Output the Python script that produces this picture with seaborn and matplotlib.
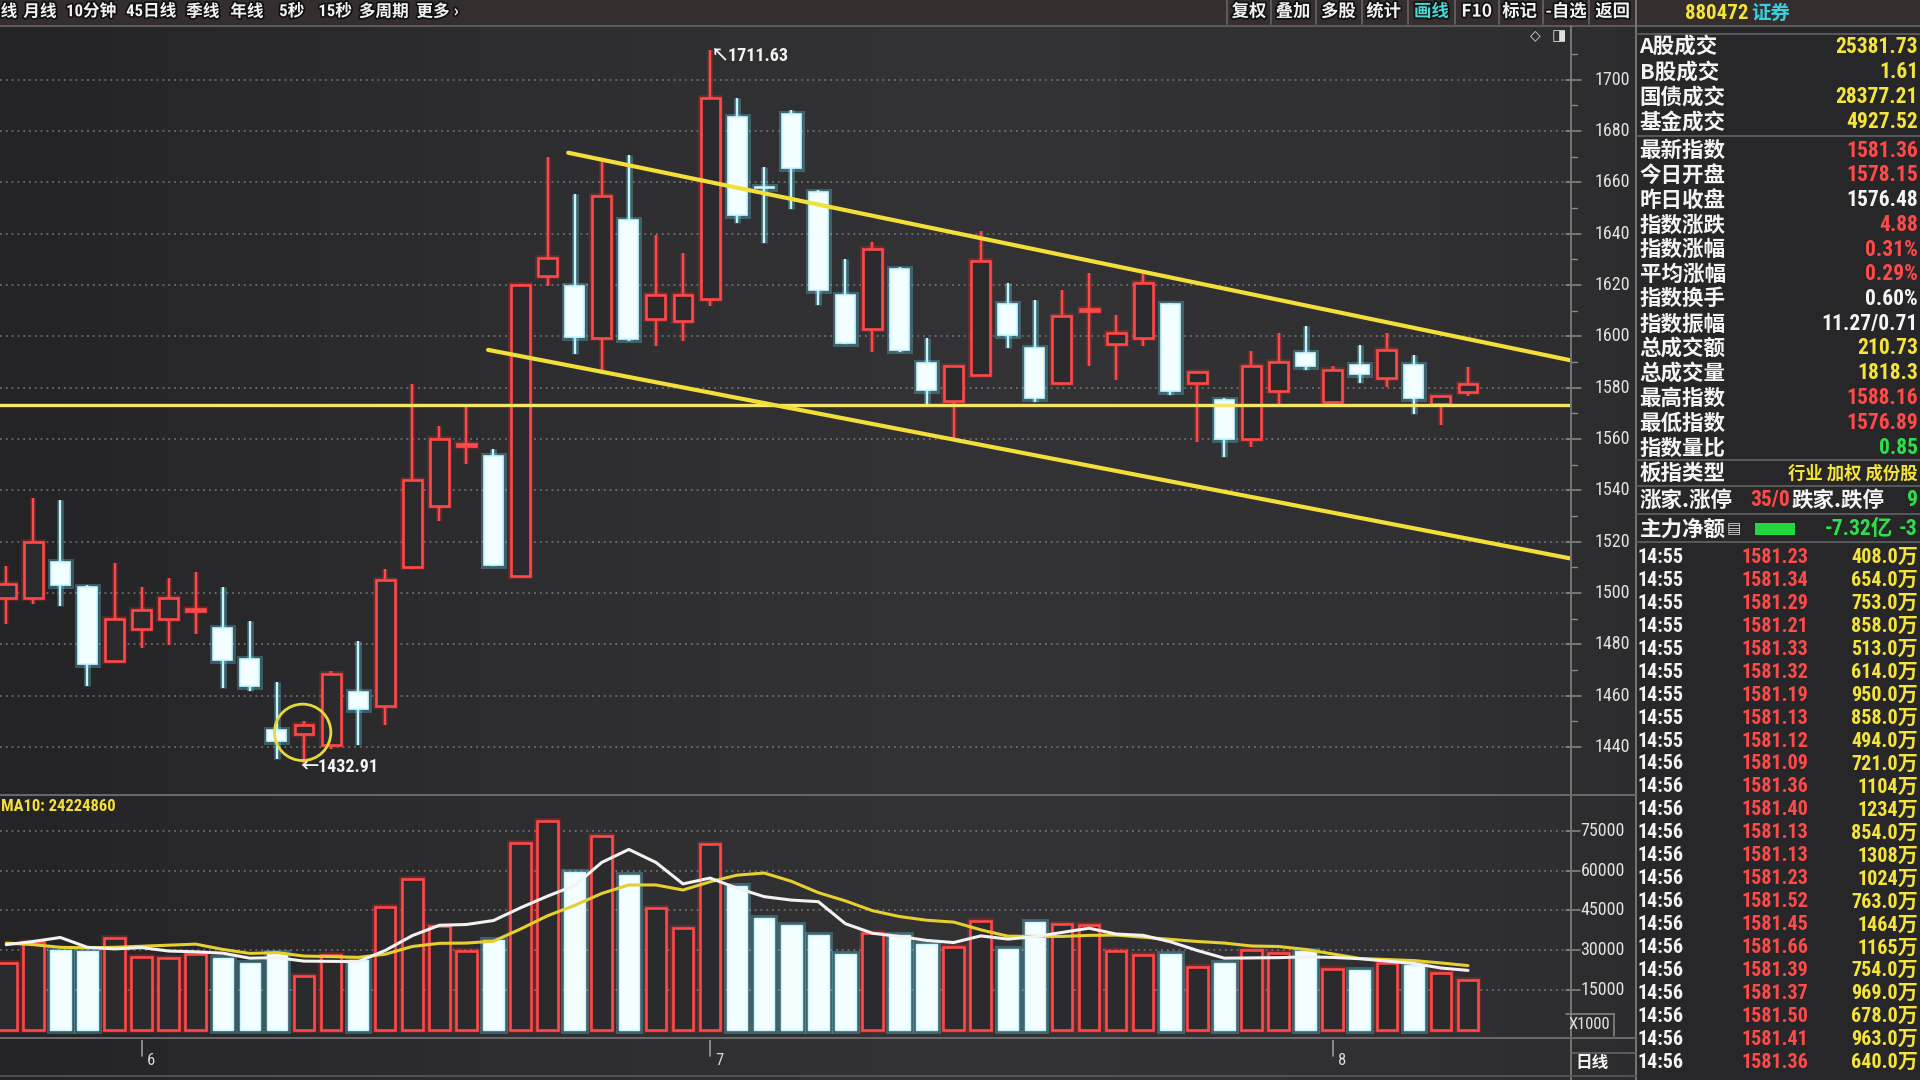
import numpy as np
import pandas as pd
import matplotlib
matplotlib.use("Agg")
import matplotlib.pyplot as plt
import matplotlib.transforms as mtransforms
import matplotlib.font_manager as fm
import matplotlib.patheffects as pe
from matplotlib.lines import Line2D
from matplotlib.patches import Rectangle
from matplotlib.colors import LinearSegmentedColormap
import seaborn as sns

# ---------------- data ----------------
opens = [1498.1, 1498.1, 1512.1, 1502.5, 1473.4, 1485.9, 1489.8, 1493.0, 1486.5, 1474.1,
         1446.6, 1445.2, 1440.6, 1461.6, 1456.1, 1510.1, 1533.7, 1557.3, 1553.4, 1506.5,
         1623.6, 1619.4, 1599.5, 1645.1, 1606.9, 1606.0, 1614.7, 1685.4, 1658.0, 1686.4,
         1656.2, 1616.0, 1603.0, 1626.1, 1589.6, 1574.6, 1585.0, 1612.4, 1595.5, 1581.8,
         1610.0, 1596.8, 1599.4, 1612.7, 1581.8, 1575.3, 1560.0, 1578.6, 1593.5, 1574.4,
         1588.7, 1583.8, 1589.0, 1573.6, 1578.1]
highs = [1510.4, 1537.0, 1536.1, 1503.0, 1511.7, 1502.3, 1505.9, 1508.2, 1502.5, 1488.9,
         1465.3, 1450.1, 1469.5, 1481.3, 1509.5, 1581.6, 1564.9, 1572.4, 1556.0, 1620.5,
         1669.8, 1655.5, 1668.1, 1670.7, 1639.5, 1632.5, 1711.63, 1692.9, 1665.9, 1688.0,
         1657.0, 1630.1, 1636.6, 1627.0, 1599.4, 1588.5, 1641.0, 1620.9, 1614.3, 1617.9,
         1624.8, 1608.2, 1624.1, 1613.0, 1586.6, 1576.0, 1594.4, 1601.3, 1604.0, 1588.3,
         1596.5, 1601.3, 1592.6, 1576.8, 1588.1]
lows = [1487.8, 1495.7, 1495.1, 1463.6, 1473.0, 1478.7, 1479.7, 1483.9, 1462.9, 1461.9,
        1435.4, 1432.91, 1439.3, 1440.6, 1448.5, 1509.5, 1528.2, 1550.1, 1510.5, 1506.0,
        1619.7, 1593.0, 1585.2, 1598.0, 1596.3, 1598.2, 1611.6, 1644.0, 1636.3, 1649.5,
        1612.0, 1597.0, 1593.9, 1594.0, 1573.3, 1560.3, 1584.5, 1595.5, 1574.5, 1581.0,
        1588.3, 1583.1, 1596.1, 1577.0, 1559.0, 1552.8, 1557.0, 1573.3, 1587.0, 1573.3,
        1581.8, 1580.1, 1569.7, 1565.5, 1576.6]
closes = [1503.6, 1520.0, 1503.3, 1472.4, 1489.8, 1493.4, 1498.1, 1493.6, 1473.7, 1463.6,
          1442.2, 1448.5, 1468.4, 1454.8, 1505.1, 1544.2, 1559.9, 1557.8, 1510.8, 1620.0,
          1630.4, 1599.9, 1654.6, 1598.9, 1616.1, 1616.1, 1692.9, 1647.3, 1657.6, 1665.5,
          1618.0, 1597.3, 1634.0, 1594.8, 1579.2, 1588.3, 1629.3, 1600.4, 1576.0, 1607.9,
          1610.6, 1601.3, 1620.9, 1578.8, 1586.1, 1560.0, 1588.3, 1590.0, 1588.3, 1587.0,
          1585.3, 1594.8, 1576.0, 1576.6, 1581.3]
volumes = [25300, 33100, 30000, 29600, 34600, 27500, 26900, 28400, 26900, 25100,
           28800, 20100, 28200, 26300, 46300, 56800, 39300, 29600, 34000, 70400,
           78800, 59300, 73200, 58300, 46100, 38300, 70100, 54300, 42200, 39400,
           35600, 28500, 36500, 35900, 32200, 31200, 40900, 30600, 40800, 39900,
           39500, 29600, 28300, 28500, 23700, 25000, 30000, 29100, 29600, 23100,
           22500, 25200, 24400, 21300, 18800]
ma5 = [32100, 33300, 34800, 31100, 30500, 31000, 29700, 29400, 28900, 27000,
       27200, 25900, 25800, 25700, 29900, 35500, 39400, 39700, 41200, 46000,
       50400, 54400, 63100, 68000, 63100, 55000, 57200, 53400, 50200, 48900,
       48300, 40000, 36400, 35200, 33700, 32900, 35400, 34200, 35100, 36700,
       38300, 36100, 35600, 33200, 29900, 27000, 27100, 27200, 27500, 27300,
       26800, 25900, 25000, 23300, 22400]
ma10 = [32700, 32100, 31100, 30900, 31100, 31500, 31900, 32300, 30300, 28800,
        29100, 27800, 27600, 27300, 28500, 31400, 32600, 32700, 33400, 38000,
        43000, 46900, 51400, 54600, 54600, 52700, 55800, 58300, 59100, 56000,
        51700, 48600, 44900, 42700, 41300, 40600, 37700, 35300, 35200, 35200,
        35600, 35700, 34900, 34100, 33300, 32700, 31600, 31400, 30300, 28600,
        26900, 26500, 26100, 25200, 24200]
ma10_label = "MA10: 24224860"
price_ticks = [1440, 1460, 1480, 1500, 1520, 1540, 1560, 1580, 1600, 1620, 1640, 1660, 1680, 1700]
vol_ticks = [15000, 30000, 45000, 60000, 75000]
month_idx = [5, 26, 49]
month_labels = ["6", "7", "8"]
support_level = 1573.2
upper_trend_x = [20.76, 57.76]
upper_trend_y = [1671.5, 1590.7]
lower_trend_x = [17.8, 57.76]
lower_trend_y = [1594.7, 1513.5]
high_label = "1711.63"
low_label = "1432.91"

toolbar_left = ["线", "月线", "10分钟", "45日线", "季线", "年线", "5秒", "15秒", "多周期", "更多 ›"]
toolbar_right = ["复权", "叠加", "多股", "统计", "画线", "F10", "标记", "-自选", "返回"]
header_code = "880472"
header_name = "证券"
stat_labels = ["A股成交", "B股成交", "国债成交", "基金成交", "最新指数", "今日开盘", "昨日收盘",
               "指数涨跌", "指数涨幅", "平均涨幅", "指数换手", "指数振幅", "总成交额", "总成交量",
               "最高指数", "最低指数", "指数量比"]
stat_values = ["25381.73", "1.61", "28377.21", "4927.52", "1581.36", "1578.15", "1576.48",
               "4.88", "0.31%", "0.29%", "0.60%", "11.27/0.71", "210.73", "1818.3",
               "1588.16", "1576.89", "0.85"]
stat_kinds = ["y", "y", "y", "y", "r", "r", "w", "r", "r", "r", "w", "w", "y", "y", "r", "r", "g"]
tick_times = ["14:55"] * 9 + ["14:56"] * 14
tick_prices = ["1581.23", "1581.34", "1581.29", "1581.21", "1581.33", "1581.32", "1581.19",
               "1581.13", "1581.12", "1581.09", "1581.36", "1581.40", "1581.13", "1581.13",
               "1581.23", "1581.52", "1581.45", "1581.66", "1581.39", "1581.37", "1581.50",
               "1581.41", "1581.36"]
tick_vols = ["408.0万", "654.0万", "753.0万", "858.0万", "513.0万", "614.0万", "950.0万",
             "858.0万", "494.0万", "721.0万", "1104万", "1234万", "854.0万", "1308万",
             "1024万", "763.0万", "1464万", "1165万", "754.0万", "969.0万", "678.0万",
             "963.0万", "640.0万"]

# ---------------- style ----------------
sns.set_theme(style="dark")
plt.rcParams["font.family"] = ["Noto Sans CJK SC", "DejaVu Sans"]
plt.rcParams["axes.unicode_minus"] = False
avail = {f.name for f in fm.fontManager.ttflist}
NARROW = next((f for f in ["Liberation Sans Narrow", "Roboto Condensed", "DejaVu Sans Condensed"]
               if f in avail), None)
NUM = [NARROW or "Roboto", "Noto Sans CJK SC", "DejaVu Sans"]
ns = 1.0 if NARROW else 0.84
CJK = ["Noto Sans CJK SC", "DejaVu Sans"]

BG = "#2b2b2d"
RED = "#ff4848"
WFILL = "#f2feff"
WEDGE = "#c8f6ff"
YEL = "#f3df3a"
YEL2 = "#f6e66a"
GRID = "#8c8c8c"
AXTXT = "#e2e2e2"
LINEC = "#6a6a6a"
TXT = "#f4f4f4"
VCOL = {"y": "#f5e43c", "r": "#ff4a4a", "w": "#f4f4f4", "g": "#2fe04a"}

W, H = 1568.0, 882.0
def fx(x): return x / W
def fy(y): return 1 - y / H

fig = plt.figure(figsize=(19.2, 10.8), dpi=100, facecolor=BG)

# photo-like background gradient
bgax = fig.add_axes([0, 0, 1, 1], zorder=-10)
bgax.axis("off")
cmap = LinearSegmentedColormap.from_list("bg", ["#242426", "#2d2d2f", "#333335", "#303032", "#28282a"])
grad = np.linspace(0, 1, 512)[None, :]
bgax.imshow(np.repeat(grad, 4, axis=0), aspect="auto", cmap=cmap, extent=[0, 1, 0, 1])
bgax.set_xlim(0, 1); bgax.set_ylim(0, 1)

def fline(x0, y0, x1, y1, color=LINEC, lw=1.2, **kw):
    fig.add_artist(Line2D([fx(x0), fx(x1)], [fy(y0), fy(y1)], transform=fig.transFigure,
                          color=color, lw=lw, **kw))

def ftext(x, y, s, **kw):
    kw.setdefault("va", "center")
    fig.text(fx(x), fy(y), s, **kw)

# ---------------- axes ----------------
ax = fig.add_axes([0, fy(648), fx(1282), fy(22) - fy(648)])
axv = fig.add_axes([0, fy(846), fx(1282), fy(651) - fy(846)])
axd = fig.add_axes([0, fy(878), fx(1282), fy(849) - fy(878)])
XL = (-0.23, 57.76)

idx = np.arange(len(opens))
o = np.array(opens); h = np.array(highs); l = np.array(lows); c = np.array(closes)
up = c >= o

# grid
for t in price_ticks:
    ax.axhline(t, color=GRID, lw=1.1, ls=(0, (1.2, 2.6)), zorder=0, alpha=0.8)

# candles
glow_r = [pe.withStroke(linewidth=4, foreground="#ff3030", alpha=0.25)]
glow_w = [pe.withStroke(linewidth=5, foreground="#6fe6ff", alpha=0.28)]
ax.vlines(idx[up], l[up], h[up], color=RED, lw=1.7, zorder=2, path_effects=glow_r)
ax.vlines(idx[~up], l[~up], h[~up], color=WEDGE, lw=1.7, zorder=2, path_effects=glow_w)
body_lo = np.minimum(o, c)
body_h = np.maximum(np.abs(c - o), 0.7)
ax.bar(idx[up], body_h[up], bottom=body_lo[up], width=0.7, facecolor=BG, edgecolor=RED,
       linewidth=1.9, zorder=3, path_effects=glow_r)
ax.bar(idx[~up], body_h[~up], bottom=body_lo[~up], width=0.7, facecolor=WFILL, edgecolor=WEDGE,
       linewidth=1.2, zorder=3, path_effects=glow_w)

# drawn lines
ax.axhline(support_level, color=YEL2, lw=2.4, zorder=4)
sns.lineplot(x=upper_trend_x, y=upper_trend_y, ax=ax, color=YEL, lw=3.0, zorder=4)
sns.lineplot(x=lower_trend_x, y=lower_trend_y, ax=ax, color=YEL, lw=3.0, zorder=4)

# annotations
i_hi = int(np.argmax(h)); i_lo = int(np.argmin(l))
ax.text(i_hi + 0.02, h[i_hi] - 2.4, "↖" + high_label, color=TXT, fontsize=13 * ns, family=NUM,
        fontweight="bold", va="center", ha="left", zorder=6)
ax.text(i_lo - 0.15, l[i_lo] - 0.8, "←" + low_label, color=TXT, fontsize=13 * ns, family=NUM,
        fontweight="bold", va="center", ha="left", zorder=6)
ax.scatter([i_lo - 0.05], [l[i_lo] + 12.8], s=1650, facecolors="none", edgecolors="#e8d83a",
           linewidths=2.0, zorder=5)

ax.set_xlim(*XL)
ax.set_ylim(1421.9, 1720.5)

# ---------------- volume ----------------
for t in vol_ticks:
    axv.axhline(t, color=GRID, lw=1.1, ls=(0, (1.2, 2.6)), zorder=0, alpha=0.8)
vdf = pd.DataFrame({"idx": idx, "vol": volumes, "dir": np.where(up, "up", "down")})
sns.barplot(data=vdf, x="idx", y="vol", hue="dir", palette={"up": BG, "down": WFILL},
            native_scale=True, dodge=False, width=0.76, errorbar=None, legend=False,
            saturation=1, ax=axv, zorder=2)
for p in axv.patches:
    fc = p.get_facecolor()
    if fc[0] < 0.5:
        p.set_edgecolor(RED); p.set_linewidth(1.9); p.set_path_effects(glow_r)
    else:
        p.set_edgecolor(WEDGE); p.set_linewidth(1.0); p.set_path_effects(glow_w)
sns.lineplot(x=idx, y=ma10, ax=axv, color="#e6cf2e", lw=2.2, zorder=5)
sns.lineplot(x=idx, y=ma5, ax=axv, color="#f2f2f2", lw=2.2, zorder=6)
axv.set_xlim(*XL)
axv.set_ylim(-2300, 87700)

# ---------------- date strip ----------------
axd.set_xlim(*XL); axd.set_ylim(0, 1)
for i, lab in zip(month_idx, month_labels):
    axd.plot([i, i], [0.55, 1.0], color="#9a9a9a", lw=1.2)
    axd.text(i + 0.18, 0.42, lab, color="#d8d8d8", fontsize=12 * ns, family=NUM, va="center", ha="left")

for a in (ax, axv, axd):
    a.set_facecolor("none")
    for s in a.spines.values():
        s.set_visible(False)
    a.set_xticks([]); a.set_yticks([])
    a.set_xlabel(""); a.set_ylabel("")
    a.grid(False)

ftext(0.5, 659, ma10_label, color=YEL, fontsize=12 * ns, family=NUM, fontweight="bold", ha="left")

# ---------------- price / volume axis labels ----------------
trans_p = mtransforms.blended_transform_factory(fig.transFigure, ax.transData)
for t in price_ticks:
    ax.text(fx(1331), t, f"{t}", transform=trans_p, ha="right", va="center", color=AXTXT,
            fontsize=13 * ns, family=NUM, clip_on=False)
    ax.add_line(Line2D([fx(1279), fx(1291)], [t, t], transform=trans_p, color="#8a8a8a", lw=1.1, clip_on=False))
    ax.add_line(Line2D([fx(1283), fx(1288)], [t + 10, t + 10], transform=trans_p, color="#8a8a8a", lw=1.0, clip_on=False))
ax.set_ylim(1421.9, 1720.5)
trans_v = mtransforms.blended_transform_factory(fig.transFigure, axv.transData)
for t in vol_ticks:
    axv.text(fx(1327), t, f"{t}", transform=trans_v, ha="right", va="center", color=AXTXT,
             fontsize=13 * ns, family=NUM, clip_on=False)
    axv.add_line(Line2D([fx(1279), fx(1290)], [t, t], transform=trans_v, color="#8a8a8a", lw=1.1, clip_on=False))
axv.set_ylim(-2300, 87700)

# ---------------- frame lines ----------------
fig.add_artist(Rectangle((0, fy(21)), fx(1568), fy(0) - fy(21), transform=fig.transFigure,
                         facecolor="#342f2e", edgecolor="none", zorder=1))
fig.add_artist(Rectangle((fx(1336), 0), fx(1568) - fx(1336), fy(21), transform=fig.transFigure,
                         facecolor="#272729", edgecolor="none", zorder=0.5))
fline(0, 21, 1568, 21, color="#5a5a5a", lw=1.5)
fline(1283, 21, 1283, 882, color="#767676", lw=1.4)
fline(1336, 0, 1336, 882, color="#767676", lw=1.4)
fline(0, 649, 1336, 649, color="#6a6a6a", lw=1.4)
fline(0, 848, 1336, 848, color="#6a6a6a", lw=1.4)
fline(0, 879, 1336, 879, color="#5a5a5a", lw=1.2)
fline(1279, 828, 1318, 828, color="#8a8a8a", lw=1.1)
fline(1318, 828, 1318, 846, color="#8a8a8a", lw=1.1)
fline(1283, 860, 1336, 860, color="#6a6a6a", lw=1.1)
ftext(1281, 837, "X1000", color=AXTXT, fontsize=12 * ns, family=NUM, ha="left")
ftext(1300, 868, "日线", color=TXT, fontsize=12, family=CJK, ha="center", fontweight="bold")
ftext(1254, 29, "◇", color="#e0e0e0", fontsize=10, family=["DejaVu Sans"], ha="center")
ftext(1273, 29, "◨", color="#e0e0e0", fontsize=11, family=["DejaVu Sans"], ha="center")

# ---------------- toolbar ----------------
shadow = [pe.withStroke(linewidth=2.5, foreground="#111111")]
for s, x in zip(toolbar_left, [0.5, 19, 54, 103, 152, 188, 228, 260, 293, 340]):
    ftext(x, 9.5, s, color="#f2f2f2", fontsize=12, family=NUM if s[0].isdigit() else CJK,
          fontweight="bold", ha="left", path_effects=shadow)
for s, x in zip(toolbar_right, [1020, 1056, 1093, 1130, 1169, 1206, 1241, 1279, 1317]):
    ftext(x, 9.5, s, color="#48d8d8" if s == "画线" else "#f2f2f2", fontsize=12.5,
          family=CJK, fontweight="bold", ha="center", path_effects=shadow)
for x in [1002, 1038, 1075, 1112, 1150, 1188, 1224, 1260, 1298]:
    fline(x, 0, x, 20, color="#6a6463", lw=1.2)

# ---------------- right panel ----------------
ftext(1376, 11, header_code, color="#f5e43c", fontsize=15 * ns, family=NUM, fontweight="bold", ha="left")
ftext(1430, 11, header_name, color="#38d0e0", fontsize=14, family=CJK, fontweight="bold", ha="left")
for yy in [28, 111, 376, 397, 420, 443]:
    fline(1336, yy, 1568, yy, color="#5e5e5e", lw=1.3)
stat_y = [38, 58.5, 79, 99.5, 123, 143, 163.5, 184, 204, 224, 244, 264.5, 284.5, 305, 325, 345.5, 366]
for lab, val, kind, yy in zip(stat_labels, stat_values, stat_kinds, stat_y):
    ftext(1339, yy, lab, color=TXT, fontsize=15.5, family=CJK, fontweight="bold", ha="left")
    ftext(1566.5, yy, val, color=VCOL[kind], fontsize=15.5 * ns, family=NUM, fontweight="bold", ha="right")
ftext(1339, 386.5, "板指类型", color=TXT, fontsize=15.5, family=CJK, fontweight="bold", ha="left")
ftext(1566, 386.5, "行业 加权 成份股", color="#f5e43c", fontsize=12.5, family=CJK, fontweight="bold", ha="right")
ftext(1339, 408.5, "涨家.涨停", color=TXT, fontsize=15.5, family=CJK, fontweight="bold", ha="left")
ftext(1429, 408.5, "35/0", color=VCOL["r"], fontsize=15.5 * ns, family=NUM, fontweight="bold", ha="left")
ftext(1463, 408.5, "跌家.跌停", color=TXT, fontsize=15.5, family=CJK, fontweight="bold", ha="left")
ftext(1566, 408.5, "9", color=VCOL["g"], fontsize=15.5 * ns, family=NUM, fontweight="bold", ha="right")
ftext(1339, 432, "主力净额", color=TXT, fontsize=15.5, family=CJK, fontweight="bold", ha="left")
ftext(1416, 432, "▤", color="#d0d0d0", fontsize=11, family=["DejaVu Sans"], ha="center")
fig.add_artist(Rectangle((fx(1433), fy(437)), fx(1466) - fx(1433), fy(427) - fy(437),
                         transform=fig.transFigure, facecolor="#22d83c", edgecolor="none", zorder=3))
ftext(1490, 432, "-7.32亿", color=VCOL["g"], fontsize=15.5 * ns, family=NUM, fontweight="bold", ha="left")
ftext(1566, 432, "-3", color=VCOL["g"], fontsize=15.5 * ns, family=NUM, fontweight="bold", ha="right")

for k, (tt, pp, vv) in enumerate(zip(tick_times, tick_prices, tick_vols)):
    yy = 455 + k * 18.77
    ftext(1337, yy, tt, color=TXT, fontsize=14.5 * ns, family=NUM, fontweight="bold", ha="left")
    ftext(1422, yy, pp, color=VCOL["r"], fontsize=14.5 * ns, family=NUM, fontweight="bold", ha="left")
    ftext(1566.5, yy, vv, color=VCOL["y"], fontsize=14.5 * ns, family=NUM, fontweight="bold", ha="right")

fig.savefig("out.png", dpi=100, facecolor=BG)
